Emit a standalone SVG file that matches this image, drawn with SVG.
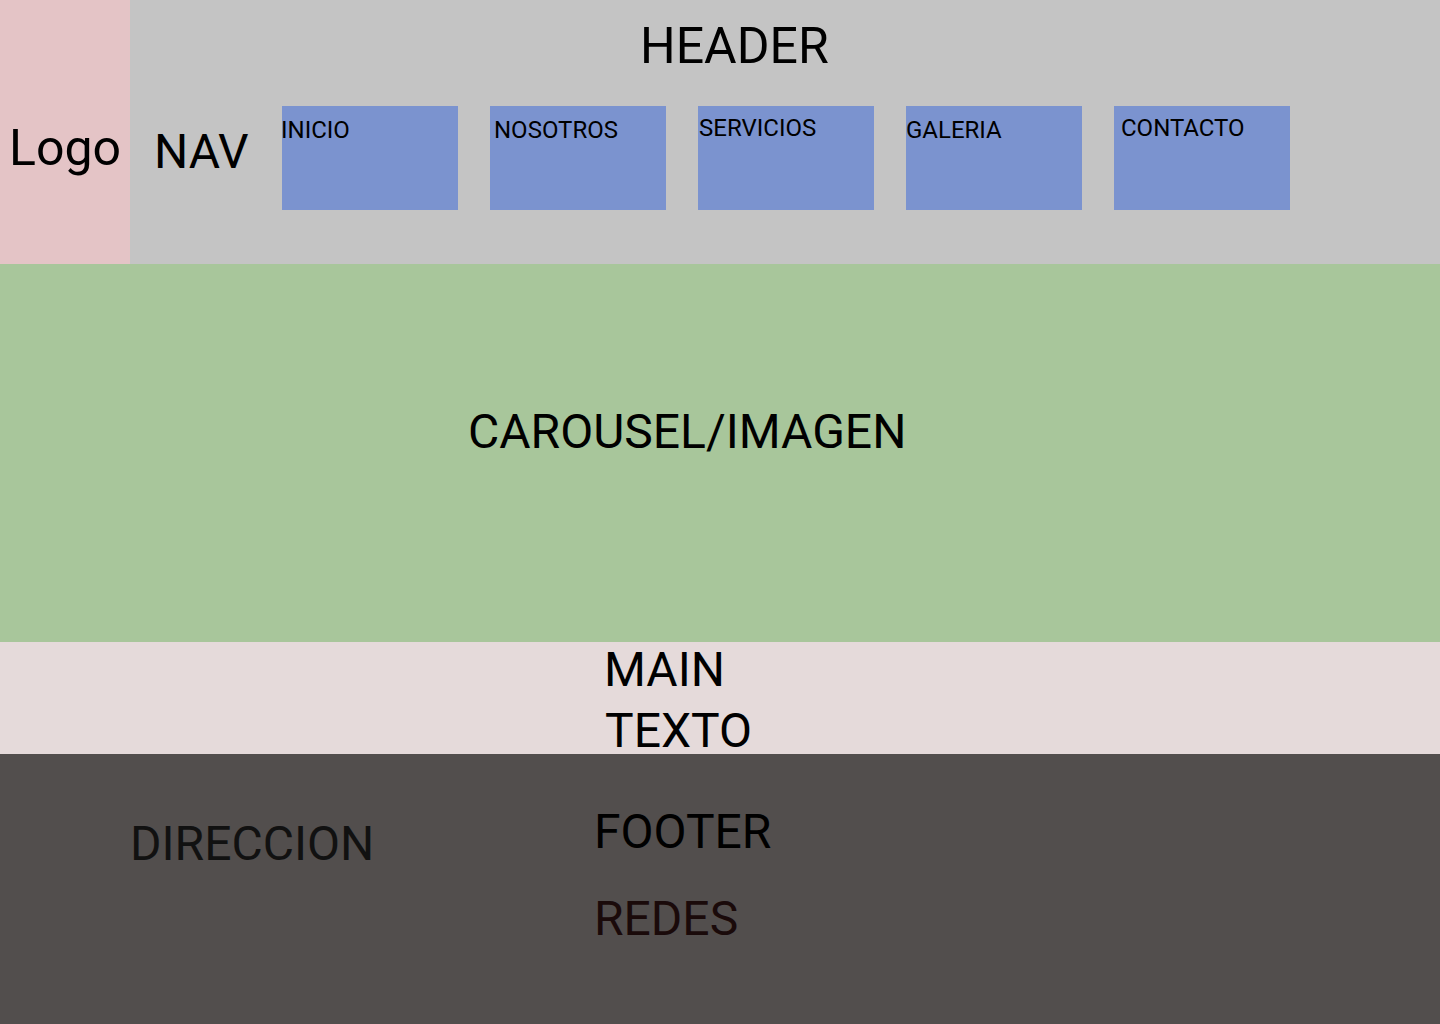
<svg xmlns="http://www.w3.org/2000/svg" width="1440" height="1024" viewBox="0 0 1440 1024">
<style>
text{font-family:Roboto,"Liberation Sans",sans-serif;fill:#000}
.big{font-size:48px}
.xl{font-size:50px}
.nav{font-size:24px}
.btn{fill:#7b93cf}
</style>
<g id="header">
<rect x="130" y="0" width="1310" height="264" fill="#c4c4c4"/>
<text class="xl" x="640" y="63">HEADER</text>
</g>
<g id="logo">
<rect x="0" y="0" width="130" height="264" fill="#e4c4c6"/>
<text class="xl" x="9" y="165">Logo</text>
</g>
<g id="nav">
<text class="big" x="154" y="168">NAV</text>
</g>
<g id="inicio"><rect class="btn" x="282" y="106" width="176" height="104"/><text class="nav" x="281" y="138">INICIO</text></g>
<g id="nosotros"><rect class="btn" x="490" y="106" width="176" height="104"/><text class="nav" x="494" y="138">NOSOTROS</text></g>
<g id="servicios"><rect class="btn" x="698" y="106" width="176" height="104"/><text class="nav" x="699" y="136">SERVICIOS</text></g>
<g id="galeria"><rect class="btn" x="906" y="106" width="176" height="104"/><text class="nav" x="906" y="138">GALERIA</text></g>
<g id="contacto"><rect class="btn" x="1114" y="106" width="176" height="104"/><text class="nav" x="1121" y="136">CONTACTO</text></g>
<g id="carousel">
<rect x="0" y="264" width="1440" height="378" fill="#a8c69b"/>
<text class="big" x="468" y="448">CAROUSEL/IMAGEN</text>
</g>
<g id="main">
<rect x="0" y="642" width="1440" height="112" fill="#e5dada"/>
<text class="big" x="604" y="686">MAIN</text>
<text class="big" x="605" y="747">TEXTO</text>
</g>
<g id="footer">
<rect x="0" y="754" width="1440" height="270" fill="#524e4d"/>
<text class="big" x="594" y="848">FOOTER</text>
<text class="big" x="130" y="860" style="fill:#111">DIRECCION</text>
<text class="big" x="594" y="935" style="fill:#1a0a0a">REDES</text>
</g>
<g id="connectors"/>
</svg>
